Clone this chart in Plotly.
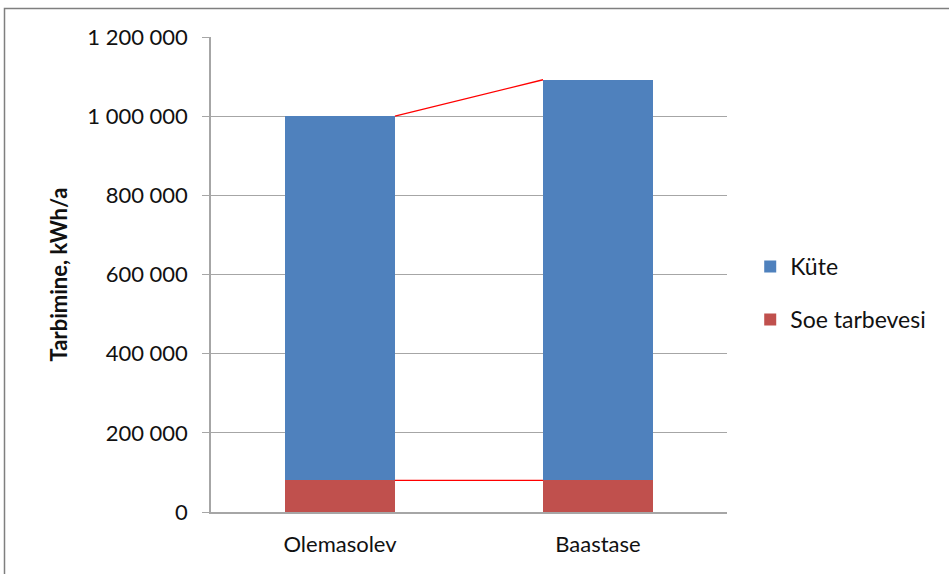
import plotly.graph_objects as go

categories = ["Olemasolev", "Baastase"]
soe_tarbevesi = [80000, 80000]
kute = [920000, 1012000]
y_ticks = [0, 200000, 400000, 600000, 800000, 1000000, 1200000]
y_tick_labels = ["0", "200 000", "400 000", "600 000", "800 000", "1 000 000", "1 200 000"]

BLUE = "#4F81BD"
RED = "#C0504D"
GRID = "#A6A6A6"
FONT = "Lato, 'Open Sans', sans-serif"
FS = 22

W, H = 949, 574
L, R, T, B = 211, 222, 37, 62
bargap = 0.574
bar_w = 1 - bargap

fig = go.Figure()
fig.add_trace(go.Bar(
    x=categories, y=soe_tarbevesi, name="Soe tarbevesi",
    marker=dict(color=RED, line=dict(width=0)), legendgroup="soe", legendrank=2,
))
fig.add_trace(go.Bar(
    x=categories, y=kute, name="Küte",
    marker=dict(color=BLUE, line=dict(width=0)), legendgroup="kute", legendrank=1,
))

# series lines joining the tops of each stacked segment
tops_low = soe_tarbevesi
tops_high = [a + b for a, b in zip(soe_tarbevesi, kute)]
for tops in (tops_low, tops_high):
    fig.add_shape(
        type="line", xref="x", yref="y",
        x0=0 + bar_w / 2, y0=tops[0], x1=1 - bar_w / 2, y1=tops[1],
        line=dict(color="#FF0000", width=1.3), layer="above",
    )

# outer chart frame
pw = W - L - R
ph = H - T - B
fig.add_shape(
    type="rect", xref="paper", yref="paper",
    x0=-(L - 4.5) / pw, x1=(W + 20 - L) / pw,
    y0=-(B + 20) / ph, y1=1 + (T - 8.5) / ph,
    line=dict(color="#7F7F7F", width=1.5), fillcolor="rgba(0,0,0,0)", layer="below",
)

fig.update_layout(
    width=W, height=H,
    margin=dict(l=L, r=R, t=T, b=B, autoexpand=False),
    barmode="stack", bargap=bargap,
    plot_bgcolor="white", paper_bgcolor="white",
    font=dict(family=FONT, size=FS, color="#111111"),
    showlegend=True,
    legend=dict(
        x=1.045, y=0.461, xanchor="left", yanchor="middle",
        traceorder="grouped", tracegroupgap=20,
        font=dict(family=FONT, size=FS + 1), itemwidth=30,
        bgcolor="rgba(0,0,0,0)",
    ),
    xaxis=dict(
        showgrid=False, showline=True, linecolor=GRID, linewidth=1.5,
        ticks="", tickfont=dict(family=FONT, size=FS), ticklabelstandoff=12,
    ),
    yaxis=dict(
        range=[0, 1200000], tickvals=y_ticks, ticktext=y_tick_labels,
        showgrid=True, gridcolor=GRID, gridwidth=1,
        showline=True, linecolor=GRID, linewidth=1.5,
        ticks="outside", ticklen=7, tickcolor=GRID, tickwidth=1,
        zeroline=False, ticklabelstandoff=10,
        tickfont=dict(family=FONT, size=FS),
        title=dict(text="<b>Tarbimine, kWh/a</b>", font=dict(family=FONT, size=FS), standoff=14),
    ),
)

fig.write_html("out.html")
